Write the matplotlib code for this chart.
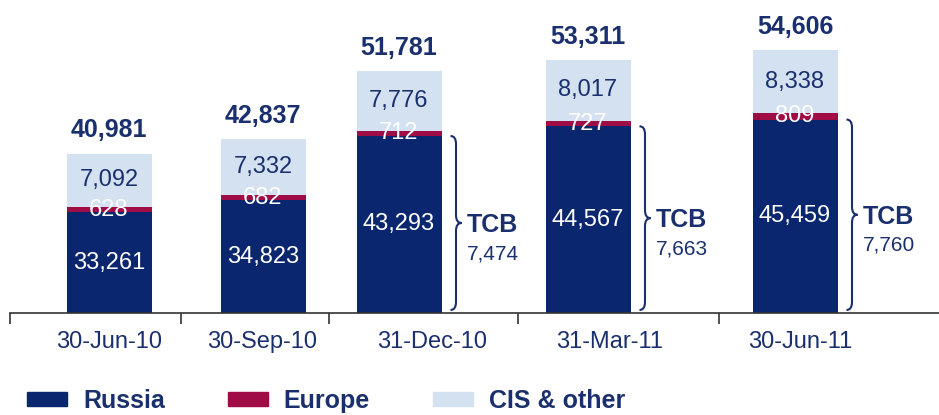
import matplotlib.pyplot as plt
from matplotlib.path import Path
from matplotlib.patches import PathPatch, Patch

plt.rcParams['font.family'] = ['Liberation Sans', 'DejaVu Sans']

dates = ["30-Jun-10", "30-Sep-10", "31-Dec-10", "31-Mar-11", "30-Jun-11"]
russia = [33261, 34823, 43293, 44567, 45459]
europe = [628, 682, 712, 727, 809]
cis = [7092, 7332, 7776, 8017, 8338]
totals = [40981, 42837, 51781, 53311, 54606]
tcb = [None, None, 7474, 7663, 7760]

# layout (pixel-like x units)
bar_x = [109, 263, 399, 588, 795]
label_x = [109, 262, 432, 610, 800]
sep_x = [10, 181, 329, 518, 719]
bar_w = 85
y_min = 20000
px = 1 / 0.0076  # value units per pixel

c_rus = "#0A266E"
c_eur = "#A00C46"
c_cis = "#D4E1F0"
c_txt = "#1A2F6E"

fig = plt.figure(figsize=(9.39, 4.15), dpi=100)
ax = fig.add_axes([0, 102 / 415, 1, 313 / 415])
ax.set_xlim(0, 939)
ax.set_ylim(y_min, y_min + 313 * px)

bot2 = [r + e for r, e in zip(russia, europe)]
ax.bar(bar_x, russia, bar_w, color=c_rus, label="Russia")
ax.bar(bar_x, europe, bar_w, bottom=russia, color=c_eur, label="Europe")
ax.bar(bar_x, cis, bar_w, bottom=bot2, color=c_cis, label="CIS & other")

for i in range(len(dates)):
    x = bar_x[i]
    ax.text(x, (y_min + russia[i]) / 2, f"{russia[i]:,}", ha="center", va="center",
            color="white", fontsize=17)
    ax.text(x, russia[i] + europe[i] / 2, f"{europe[i]:,}", ha="center", va="center",
            color="white", fontsize=17)
    ax.text(x, bot2[i] + cis[i] / 2, f"{cis[i]:,}", ha="center", va="center",
            color=c_txt, fontsize=17)
    ax.annotate(f"{totals[i]:,}", (x, totals[i]), xytext=(0, 8), textcoords="offset points",
                ha="center", va="bottom", color=c_txt, fontsize=18, fontweight="bold")

    if tcb[i] is not None:
        # curly brace next to the Russia segment
        x0 = x + bar_w / 2 + 9
        w = 11
        y1 = russia[i]
        y0 = y_min + 3 * px
        ym = (y0 + y1) / 2
        r = 8 * px
        verts = [
            (x0, y1), (x0 + w / 2, y1), (x0 + w / 2, y1 - r),
            (x0 + w / 2, ym + r),
            (x0 + w / 2, ym), (x0 + w, ym),
            (x0 + w / 2, ym), (x0 + w / 2, ym - r),
            (x0 + w / 2, y0 + r),
            (x0 + w / 2, y0), (x0, y0),
        ]
        codes = [Path.MOVETO, Path.CURVE3, Path.CURVE3, Path.LINETO,
                 Path.CURVE3, Path.CURVE3,
                 Path.CURVE3, Path.CURVE3, Path.LINETO,
                 Path.CURVE3, Path.CURVE3]
        ax.add_patch(PathPatch(Path(verts, codes), fill=False, edgecolor=c_txt, lw=1.5))
        ax.annotate("TCB", (x0 + w + 5, ym), xytext=(0, -1.5), textcoords="offset points",
                    ha="left", va="center", color=c_txt, fontsize=18, fontweight="bold")
        ax.annotate(f"{tcb[i]:,}", (x0 + w + 5, ym), xytext=(0, -22), textcoords="offset points",
                    ha="left", va="center", color=c_txt, fontsize=15)

for s in ["top", "left", "right"]:
    ax.spines[s].set_visible(False)
ax.spines["bottom"].set_bounds(10, 939)
ax.spines["bottom"].set_color("#333333")
ax.spines["bottom"].set_linewidth(1.2)
ax.set_yticks([])
ax.set_xticks(sep_x)
ax.set_xticklabels([])
ax.tick_params(axis="x", which="major", direction="out", length=8, width=1.2, color="#333333")
ax.set_xticks(label_x, minor=True)
ax.set_xticklabels(dates, minor=True, fontsize=17, color=c_txt)
ax.tick_params(axis="x", which="minor", length=0, pad=13)

handles = [Patch(color=c_rus, label="Russia"), Patch(color=c_eur, label="Europe"),
           Patch(color=c_cis, label="CIS & other")]
fig.legend(handles=handles, loc="center left", bbox_to_anchor=(27 / 939, 14 / 415),
           ncol=3, frameon=False, borderpad=0, borderaxespad=0,
           handlelength=1.6, handleheight=0.5, handletextpad=0.65, columnspacing=2.5,
           prop={"weight": "bold", "size": 18}, labelcolor=c_txt)

fig.savefig("out.png", dpi=100)
